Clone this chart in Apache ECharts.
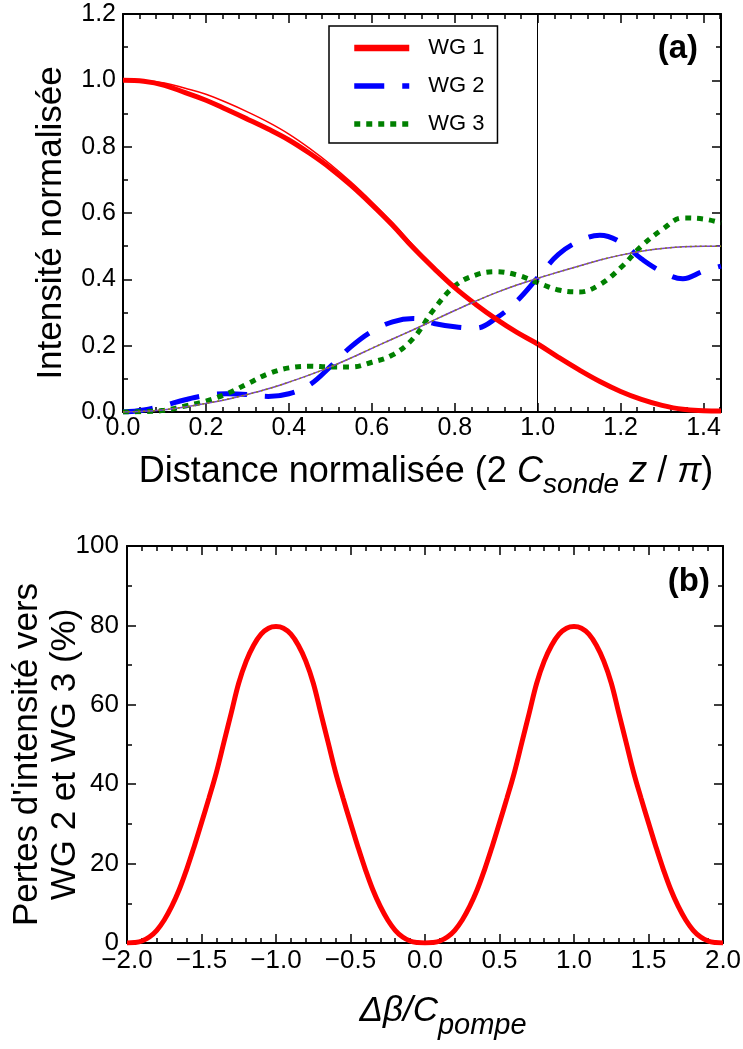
<!DOCTYPE html>
<html><head><meta charset="utf-8">
<script src="https://cdn.jsdelivr.net/npm/echarts@6/dist/echarts.min.js"></script>
<style>html,body{margin:0;padding:0;background:#fff}#c{width:743px;height:1049px}</style>
</head><body><div id="c"></div>
<script>
// ---------- Panel (a) data ----------
const distX = [0,0.05,0.1,0.15,0.2,0.25,0.3,0.35,0.4,0.45,0.5,0.55,0.6,0.65,0.7,0.75,0.8,0.85,0.9,0.95,1.0,1.05,1.1,1.15,1.2,1.25,1.3,1.35,1.4,1.442];
const wg1 = [1.0,0.997,0.985,0.963,0.94,0.912,0.883,0.853,0.82,0.78,0.735,0.683,0.625,0.563,0.495,0.433,0.375,0.325,0.28,0.24,0.205,0.165,0.127,0.092,0.062,0.038,0.02,0.008,0.004,0.003];
const wg1Thin = [1.0,0.999,0.992,0.976,0.958,0.933,0.905,0.874,0.838,0.795,0.747,0.693,0.634,0.571,0.502,0.438,0.378,0.326,0.28,0.24,0.203,0.163,0.125,0.09,0.06,0.036,0.018,0.007,0.002,0.001];
const wg2 = [0,0.006,0.02,0.037,0.05,0.055,0.053,0.047,0.055,0.082,0.137,0.197,0.243,0.272,0.282,0.267,0.257,0.253,0.283,0.335,0.405,0.475,0.515,0.533,0.512,0.462,0.423,0.402,0.425,0.44];
const wg3 = [0,0.001,0.005,0.018,0.033,0.055,0.085,0.115,0.133,0.138,0.136,0.136,0.15,0.172,0.222,0.31,0.38,0.413,0.423,0.413,0.39,0.368,0.362,0.384,0.435,0.5,0.55,0.585,0.582,0.57];
const wgThinA = [0,0.002,0.007,0.015,0.026,0.038,0.053,0.07,0.09,0.112,0.136,0.163,0.192,0.22,0.248,0.277,0.306,0.334,0.36,0.383,0.403,0.422,0.44,0.458,0.473,0.485,0.493,0.498,0.5,0.5];
const wgThinB = [0,0.002,0.007,0.015,0.026,0.038,0.053,0.07,0.09,0.112,0.136,0.163,0.192,0.22,0.248,0.277,0.306,0.334,0.36,0.383,0.403,0.422,0.44,0.458,0.473,0.485,0.493,0.498,0.5,0.5];
const vLineX = [1.0];
const legendNames = ['WG 1','WG 2','WG 3'];

// ---------- Panel (b) data ----------
const dbX = [-2,-1.95,-1.9,-1.85,-1.8,-1.75,-1.7,-1.65,-1.6,-1.55,-1.5,-1.45,-1.4,-1.35,-1.3,-1.25,-1.2,-1.15,-1.1,-1.05,-1,
  -0.95,-0.9,-0.85,-0.8,-0.75,-0.7,-0.65,-0.6,-0.55,-0.5,-0.45,-0.4,-0.35,-0.3,-0.25,-0.2,-0.15,-0.1,-0.05,0,
  0.05,0.1,0.15,0.2,0.25,0.3,0.35,0.4,0.45,0.5,0.55,0.6,0.65,0.7,0.75,0.8,0.85,0.9,0.95,1,
  1.05,1.1,1.15,1.2,1.25,1.3,1.35,1.4,1.45,1.5,1.55,1.6,1.65,1.7,1.75,1.8,1.85,1.9,1.95,2];
const losses = [0,0.1,0.5,1.5,3.2,5.8,9.2,13.4,18.5,24.2,30.3,36.5,43,50.5,58,65.5,71,75,77.8,79.3,79.7,
  79.3,77.8,75,71,65.5,58,50.5,43,36.5,30.3,24.2,18.5,13.4,9.2,5.8,3.2,1.5,0.5,0.1,0,
  0.1,0.5,1.5,3.2,5.8,9.2,13.4,18.5,24.2,30.3,36.5,43,50.5,58,65.5,71,75,77.8,79.3,79.7,
  79.3,77.8,75,71,65.5,58,50.5,43,36.5,30.3,24.2,18.5,13.4,9.2,5.8,3.2,1.5,0.5,0.1,0];

const FF = '"Liberation Sans", Arial, Helvetica, sans-serif';
const pairs = (xs, ys) => xs.map((x, i) => [x, ys[i]]);

function frameAxis(o) {
  return Object.assign({
    type: 'value',
    axisLine: { show: true, onZero: false, lineStyle: { color: '#000', width: 2 } },
    axisTick: { show: true, inside: true, length: 9, lineStyle: { color: '#000', width: 1.5 } },
    minorTick: { show: true, length: 5, lineStyle: { color: '#000', width: 1.5 } },
    splitLine: { show: false },
    axisLabel: { show: false }
  }, o);
}
const minor = n => ({ show: true, splitNumber: n, length: 5, lineStyle: { color: '#000', width: 1.5 } });
const lbl = (fmt, margin, size, extra) => Object.assign({ show: true, color: '#000', fontSize: size, fontFamily: FF, margin: margin, formatter: fmt }, extra || {});
const f1 = v => v.toFixed(1);
const fMinus = v => v.toFixed(1).replace('-', '\u2212');
const fInt = v => String(Math.round(v));

const chart = echarts.init(document.getElementById('c'), null, { renderer: 'canvas' });
chart.setOption({
  animation: false,
  backgroundColor: '#fff',
  grid: [
    { left: 123, top: 14, width: 598, height: 398, outerBoundsMode: 'none', containLabel: false },
    { left: 127, top: 546, width: 596, height: 397, outerBoundsMode: 'none', containLabel: false }
  ],
  xAxis: [
    frameAxis({ gridIndex: 0, position: 'bottom', min: 0, max: 1.442, interval: 0.2, minorTick: minor(5),
      axisLabel: lbl(f1, 4, 25, { showMaxLabel: false }),
      name: '{n|Distance normalisée (2 }{i|C}{s|sonde}{n| }{i|z}{n| / }{i|π}{n|)}',
      nameLocation: 'middle', nameGap: 42,
      nameTextStyle: { padding: [0, 0, 0, 8], rich: {
        n: { fontSize: 36, fontFamily: FF, color: '#000', lineHeight: 36, verticalAlign: 'top' },
        i: { fontSize: 36, fontFamily: FF, fontStyle: 'italic', color: '#000', lineHeight: 36, verticalAlign: 'top' },
        s: { fontSize: 28, fontFamily: FF, fontStyle: 'italic', color: '#000', lineHeight: 45, verticalAlign: 'bottom' }
      } } }),
    frameAxis({ gridIndex: 0, position: 'top', min: 0, max: 1.442, interval: 0.2, minorTick: minor(5) }),
    frameAxis({ gridIndex: 1, position: 'bottom', min: -2, max: 2, interval: 0.5, minorTick: minor(5),
      axisLabel: lbl(fMinus, 5, 26),
      name: '{i|Δβ/C}{s|pompe}',
      nameLocation: 'middle', nameGap: 51,
      nameTextStyle: { padding: [0, 0, 0, 36], rich: {
        i: { fontSize: 35, fontFamily: FF, fontStyle: 'italic', color: '#000', lineHeight: 36, verticalAlign: 'top' },
        s: { fontSize: 29, fontFamily: FF, fontStyle: 'italic', color: '#000', lineHeight: 46, verticalAlign: 'bottom' }
      } } }),
    frameAxis({ gridIndex: 1, position: 'top', min: -2, max: 2, interval: 0.5, minorTick: minor(5) })
  ],
  yAxis: [
    frameAxis({ gridIndex: 0, position: 'left', min: 0, max: 1.2, interval: 0.2, minorTick: minor(2),
      axisLabel: lbl(f1, 7, 25),
      name: 'Intensité normalisée', nameLocation: 'middle', nameGap: 54, nameMoveOverlap: false,
      nameTextStyle: { fontSize: 35, fontFamily: FF, color: '#000', lineHeight: 35, padding: [0, 20, 0, 0] } }),
    frameAxis({ gridIndex: 0, position: 'right', min: 0, max: 1.2, interval: 0.2, minorTick: minor(2) }),
    frameAxis({ gridIndex: 1, position: 'left', min: 0, max: 100, interval: 20, minorTick: minor(2),
      axisLabel: lbl(fInt, 8, 26),
      name: "Pertes d'intensité vers\nWG 2 et WG 3 (%)", nameLocation: 'middle', nameGap: 43, nameMoveOverlap: false,
      nameTextStyle: { fontSize: 35, fontFamily: FF, color: '#000', lineHeight: 38, padding: [0, 20, 0, 0] } }),
    frameAxis({ gridIndex: 1, position: 'right', min: 0, max: 100, interval: 20, minorTick: minor(2) })
  ],
  legend: {
    data: [
      { name: legendNames[0], lineStyle: { width: 6.5 } },
      { name: legendNames[1], lineStyle: { width: 5.5 } },
      { name: legendNames[2], lineStyle: { width: 5.5 } }
    ],
    orient: 'vertical', left: 329, top: 26,
    padding: [11, 13, 8, 22], itemWidth: 55, itemHeight: 14, itemGap: 16,
    borderColor: '#000', borderWidth: 1.5, backgroundColor: '#fff',
    selectedMode: false,
    itemStyle: { opacity: 0 },
    lineStyle: { width: 5.5 },
    textStyle: { fontSize: 22, fontFamily: FF, color: '#000', lineHeight: 22, padding: [0, 0, 0, 14] }
  },
  graphic: [
    { type: 'text', right: 45, top: 32, style: { text: '(a)', font: 'bold 33px ' + FF, fill: '#000' } },
    { type: 'text', right: 33, top: 565, style: { text: '(b)', font: 'bold 33px ' + FF, fill: '#000' } }
  ],
  series: [
    { type: 'line', name: 'vline', xAxisIndex: 0, yAxisIndex: 0, data: [], z: 1,
      markLine: { symbol: 'none', silent: true, label: { show: false }, animation: false,
        lineStyle: { color: '#000', width: 1, type: 'solid' }, emphasis: { disabled: true },
        data: vLineX.map(v => ({ xAxis: v })) } },
    { type: 'line', name: 'WG 2', xAxisIndex: 0, yAxisIndex: 0, data: pairs(distX, wg2), symbol: 'none', smooth: 0.4, z: 2,
      lineStyle: { color: '#0000ff', width: 5, type: [30, 18], cap: 'butt' }, itemStyle: { color: '#0000ff' } },
    { type: 'line', name: 'WG 3', xAxisIndex: 0, yAxisIndex: 0, data: pairs(distX, wg3), symbol: 'none', smooth: 0.4, z: 3,
      lineStyle: { color: '#008000', width: 5, type: [6, 6], cap: 'butt' }, itemStyle: { color: '#008000' } },
    { type: 'line', name: 'WG 1', xAxisIndex: 0, yAxisIndex: 0, data: pairs(distX, wg1), symbol: 'none', smooth: 0.4, z: 4,
      lineStyle: { color: '#ff0000', width: 5 }, itemStyle: { color: '#ff0000' } },
    { type: 'line', name: 'WG 1 (thin)', xAxisIndex: 0, yAxisIndex: 0, data: pairs(distX, wg1Thin), symbol: 'none', smooth: 0.4, z: 5,
      lineStyle: { color: '#ff0000', width: 1.5 } },
    { type: 'line', name: 'WG 2 (thin)', xAxisIndex: 0, yAxisIndex: 0, data: pairs(distX, wgThinA), symbol: 'none', smooth: 0.4, z: 6,
      lineStyle: { color: '#7a3fd0', width: 1.5 } },
    { type: 'line', name: 'WG 3 (thin)', xAxisIndex: 0, yAxisIndex: 0, data: pairs(distX, wgThinB), symbol: 'none', smooth: 0.4, z: 7,
      lineStyle: { color: '#8c8c00', width: 1.5, type: [2, 3] } },
    { type: 'line', name: 'Pertes', xAxisIndex: 2, yAxisIndex: 2, data: pairs(dbX, losses), symbol: 'none', smooth: 0.4, z: 3,
      lineStyle: { color: '#ff0000', width: 5 } }
  ]
});
</script></body></html>
